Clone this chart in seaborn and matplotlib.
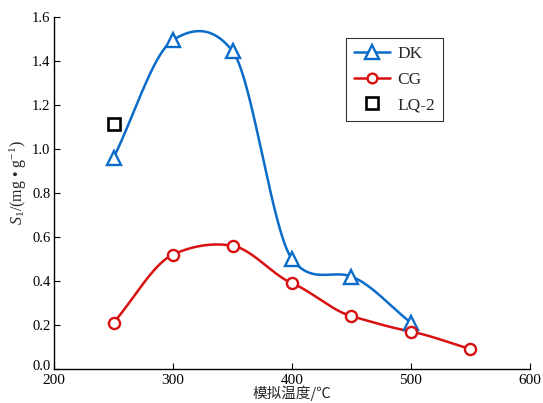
import numpy as np
import pandas as pd
import matplotlib
matplotlib.use("Agg")
import matplotlib.pyplot as plt
from matplotlib.lines import Line2D
from matplotlib.transforms import ScaledTranslation
import seaborn as sns

# ---- data ----
dk_temp = [250, 300, 350, 400, 450, 500]
dk_vals = [0.96, 1.495, 1.445, 0.50, 0.42, 0.21]
cg_temp = [250, 300, 350, 400, 450, 500, 550]
cg_vals = [0.21, 0.52, 0.56, 0.39, 0.24, 0.17, 0.09]
lq_temp = [250]
lq_vals = [1.115]
x_ticks = [200, 300, 400, 500, 600]
y_ticks = [0.0, 0.2, 0.4, 0.6, 0.8, 1.0, 1.2, 1.4, 1.6]

sns.set_theme(style="ticks")
plt.rcParams['font.family'] = ['Liberation Serif', 'DejaVu Serif']
plt.rcParams['mathtext.fontset'] = 'custom'
plt.rcParams['mathtext.rm'] = 'Liberation Serif'
plt.rcParams['mathtext.it'] = 'Liberation Serif:italic'


def smooth(x, y, n=40, k=0.7):
    x = np.asarray(x, float); y = np.asarray(y, float)
    m = np.zeros_like(y)
    m[1:-1] = (y[2:] - y[:-2]) / (x[2:] - x[:-2])
    m[0] = (y[1] - y[0]) / (x[1] - x[0])
    m[-1] = (y[-1] - y[-2]) / (x[-1] - x[-2])
    m[1:-1] *= k
    xs, ys = [], []
    for i in range(len(x) - 1):
        h = x[i + 1] - x[i]
        t = np.linspace(0, 1, n, endpoint=(i == len(x) - 2))
        h00 = 2*t**3 - 3*t**2 + 1
        h10 = t**3 - 2*t**2 + t
        h01 = -2*t**3 + 3*t**2
        h11 = t**3 - t**2
        xs.append(x[i] + t*h)
        ys.append(h00*y[i] + h10*h*m[i] + h01*y[i+1] + h11*h*m[i+1])
    return pd.DataFrame({"x": np.concatenate(xs), "y": np.concatenate(ys)})


blue = "#0a6cc8"
red = "#d81010"

fig = plt.figure(figsize=(5.43, 4.03), dpi=100)
ax = fig.add_axes([0.0995, 0.0844, 0.8765, 0.8736])

dk_s = smooth(dk_temp, dk_vals)
cg_s = smooth(cg_temp, cg_vals)
sns.lineplot(data=dk_s, x="x", y="y", ax=ax, color=blue, lw=1.8, sort=False, estimator=None)
sns.lineplot(data=cg_s, x="x", y="y", ax=ax, color=red, lw=1.8, sort=False, estimator=None)

ax.plot(dk_temp, dk_vals, ls='none', marker='^', ms=10, mfc='white', mec=blue, mew=1.7)
ax.plot(cg_temp, cg_vals, ls='none', marker='o', ms=8, mfc='white', mec=red, mew=1.7)
ax.plot(lq_temp, lq_vals, ls='none', marker='s', ms=8, mfc='white', mec='black', mew=1.9)

ax.set_xlim(200, 600)
ax.set_ylim(0, 1.6)
ax.set_xticks(x_ticks)
ax.set_yticks(y_ticks)
ax.set_xticklabels([str(v) for v in x_ticks])
ax.set_yticklabels([f"{v:.1f}" for v in y_ticks])
ax.tick_params(direction='in', length=4, width=0.8, labelsize=11, colors='black')
ax.tick_params(axis='x', pad=3.5)
ax.tick_params(axis='y', pad=2.5, labelsize=10.5)
lab0 = ax.get_yticklabels()[0]
lab0.set_transform(lab0.get_transform() + ScaledTranslation(0, 3/72, fig.dpi_scale_trans))
for s in ['top', 'right']:
    ax.spines[s].set_visible(False)
for s in ['left', 'bottom']:
    ax.spines[s].set_color('black')
    ax.spines[s].set_linewidth(1.0)

ax.set_xlabel("模拟温度/℃", family=['Noto Sans CJK SC', 'DejaVu Sans'], fontsize=10.5, labelpad=-1)
ax.set_ylabel(r"$S_1$/(mg • g$^{-1}$)", fontsize=11.5)
ax.yaxis.set_label_coords(-0.052, 0.53)

handles = [
    Line2D([], [], color=blue, lw=1.8, marker='^', ms=10, mfc='white', mec=blue, mew=1.7),
    Line2D([], [], color=red, lw=1.8, marker='o', ms=7, mfc='white', mec=red, mew=1.7),
    Line2D([], [], ls='none', marker='s', ms=8, mfc='white', mec='black', mew=1.9),
]
leg = ax.legend(handles, ["DK", "CG", "LQ-2"], loc='upper left', bbox_to_anchor=(0.613, 0.94),
                borderaxespad=0, frameon=True, fancybox=False, edgecolor='black', fontsize=12.5,
                handlelength=2.07, labelspacing=0.55, borderpad=0.45, handletextpad=0.45)
leg.get_frame().set_linewidth(0.8)

ax.set_facecolor('white')
fig.patch.set_facecolor('white')
fig.savefig("out.png", dpi=100)
